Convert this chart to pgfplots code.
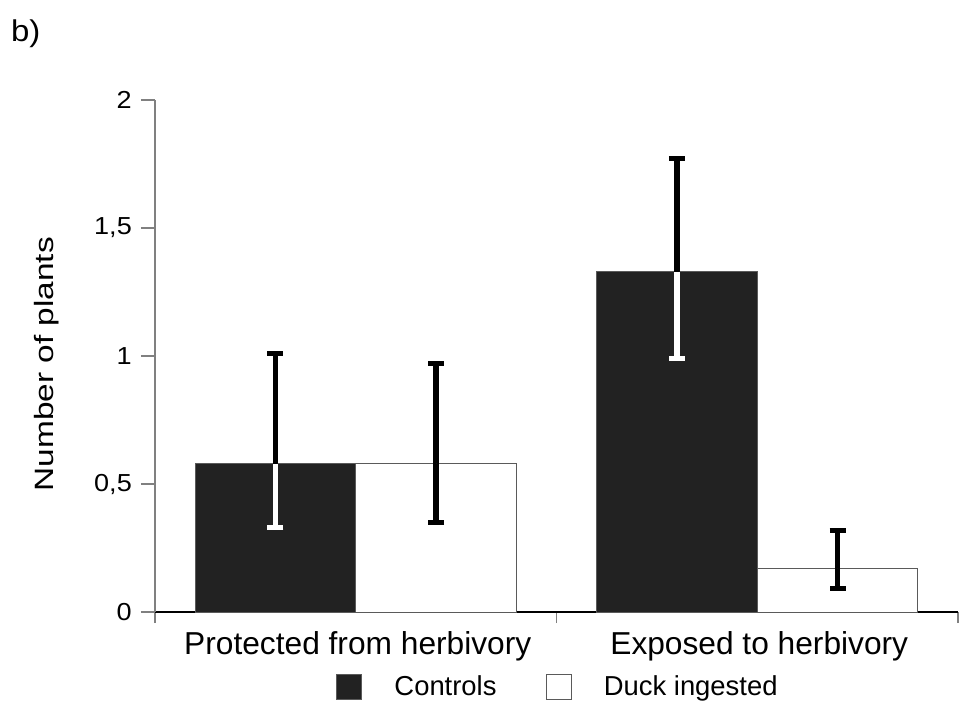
\documentclass[border=0pt]{standalone}
\usepackage{fontspec}
\setmainfont{Liberation Sans}
\newfontfamily\widefont[FakeStretch=1.1]{Liberation Sans}
\newfontfamily\labfont[FakeStretch=1.26]{Liberation Sans}
\usepackage{pgfplots}
\pgfplotsset{compat=1.18}
\definecolor{barfill}{HTML}{222222}
\definecolor{edge}{HTML}{5A5A5A}
\definecolor{axgray}{HTML}{808080}

% bar centre, mean, upper and lower error
\pgfplotstableread{
x y ep em
-0.2 0.58 0.43 0.25
0.8 1.33 0.44 0.34
}\controls
\pgfplotstableread{
x y ep em
0.2 0.58 0.39 0.23
1.2 0.17 0.15 0.08
}\duck

\pgfplotsset{
 sqleg/.style={legend image code/.code={\draw[##1] (0pt,-6.25pt) rectangle (12.5pt,6.25pt);}},
 /pgfplots/error bars/ebar/.style={error bar style={draw=#1,line width=2.75pt},
   error mark options={rotate=90,draw=#1,line width=2.5pt,mark size=4pt}}
}

\begin{document}
\begin{tikzpicture}
\useasboundingbox (0,0) rectangle (481pt,-354.5pt);
\node[anchor=base west,inner sep=0pt,font=\widefont\fontsize{15}{18}\selectfont] at (5.3pt,-20.85pt) {b)};
\begin{axis}[
 at={(77.5pt,-306pt)},anchor=south west,
 scale only axis,width=401.5pt,height=256pt,
 xmin=-0.5,xmax=1.5,ymin=0,ymax=2,
 axis x line=bottom,axis y line=left,axis line style={-},
 x axis line style={black,line width=0.9pt},
 y axis line style={axgray,line width=0.9pt},
 tick align=outside,
 ytick={0,0.5,1,1.5,2},yticklabels={0,{0,5},1,{1,5},2},
 y tick style={axgray,line width=0.8pt},
 major tick length=7pt,
 xtick={0,1},xticklabels={Protected from herbivory,Exposed to herbivory},
 major x tick style={draw=none},
 minor xtick={-0.5,0.5,1.5},
 minor x tick style={axgray,line width=0.8pt},
 minor tick length=5.5pt,
 yticklabel style={font=\widefont\fontsize{12.3}{14}\selectfont,anchor=east,inner sep=0pt,xshift=-4.4pt},
 xticklabel style={font=\fontsize{15.85}{19}\selectfont,anchor=base,inner sep=0pt,yshift=-14.2pt,xshift=1pt},
 ylabel={Number of plants},
 every axis y label/.style={at={(axis description cs:-0.127,0.484)},rotate=90,anchor=base,
   font=\labfont\fontsize{13.25}{16}\selectfont},
 legend columns=2,
 legend style={draw=none,fill=none,inner sep=0pt,at={(axis description cs:0.503,-0.1465)},anchor=center,
   font=\fontsize{13.7}{16}\selectfont,
   /tikz/every odd column/.style={column sep=14.1pt},
   /tikz/every even column/.style={column sep=22.6pt}},
]
\addplot[ybar,bar width=0.4,bar shift=0pt,fill=barfill,draw=edge,line width=0.5pt,sqleg,
  error bars/.cd,y dir=plus,y explicit,ebar=black]
  table[x=x,y=y,y error plus=ep,y error minus=em] {\controls};
\addplot[ybar,bar width=0.4,bar shift=0pt,fill=white,draw=edge,line width=0.5pt,sqleg,
  error bars/.cd,y dir=both,y explicit,ebar=black]
  table[x=x,y=y,y error plus=ep,y error minus=em] {\duck};
\addplot[forget plot,draw=none,mark=none,
  error bars/.cd,y dir=minus,y explicit,ebar=white]
  table[x=x,y=y,y error plus=ep,y error minus=em] {\controls};
\legend{Controls,Duck ingested}
\end{axis}
\end{tikzpicture}
\end{document}
